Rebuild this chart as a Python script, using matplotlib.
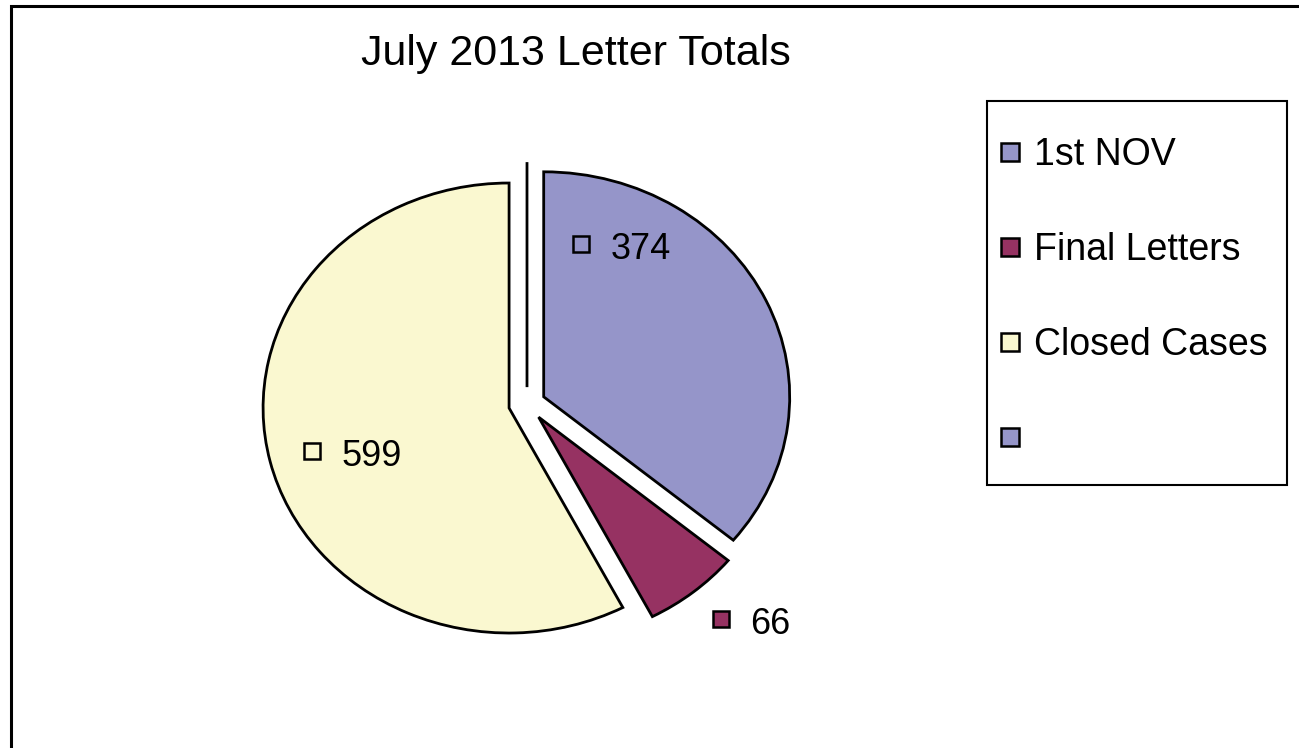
import numpy as np
import matplotlib
matplotlib.use("Agg")
import matplotlib.pyplot as plt
from matplotlib.lines import Line2D
from matplotlib.patches import Rectangle

plt.rcParams['font.family'] = ['Liberation Sans', 'DejaVu Sans']

# data
categories = ['1st NOV', 'Final Letters', 'Closed Cases', '']
values = [374, 66, 599, 0]
colors = ['#9595C9', '#963262', '#FAF8D0', '#9595C9']
title = 'July 2013 Letter Totals'

# label placement (polar, pie radius units) for the value labels
label_ang = [72.8, -50.5, 193.4]
label_r = [0.744, 1.237, 0.899]

W, H = 1299, 748
fig = plt.figure(figsize=(W / 100, H / 100), dpi=100)
ax = fig.add_axes([0, 0, 1, 1])

wedges, _ = ax.pie(values, colors=colors, startangle=90, counterclock=False,
                   explode=[0.075] * len(values),
                   wedgeprops=dict(edgecolor='black', linewidth=2.0))

# pie centre at (527, 404) px, radius 246 px wide x 225 px tall (stretched)
cx, cy, rx, ry = 527, 404, 246, 225
ax.set_xlim(-cx / rx, (W - cx) / rx)
ax.set_ylim(-(H - cy) / ry, cy / ry)
ax.set_aspect('auto')
ax.axis('off')

# value labels with small keys
for i in range(3):
    a = np.deg2rad(label_ang[i])
    x, y = label_r[i] * np.cos(a), label_r[i] * np.sin(a)
    ax.plot([x], [y], marker='s', ms=11.5, mfc=colors[i], mec='black', mew=1.8, ls='none')
    ax.annotate(str(values[i]), (x, y), xytext=(21, -11), textcoords='offset points',
                ha='left', va='baseline', fontsize=26)

# title
fig.text(576 / W, 1 - 65 / H, title, ha='center', va='baseline', fontsize=31)

# legend (frame drawn separately)
handles = [Line2D([], [], marker='s', ms=12.5, mfc=c, mec='black', mew=1.8, ls='none')
           for c in colors]
leg = fig.legend(handles, categories, loc='upper left',
                 bbox_to_anchor=(999 / W, 1 - 137 / H),
                 borderaxespad=0, borderpad=0, fontsize=27, frameon=False,
                 handlelength=0.58, handletextpad=0.36, labelspacing=1.57)
fig.add_artist(Rectangle((987 / W, 1 - 485 / H), 300 / W, 384 / H,
                         transform=fig.transFigure, fill=False,
                         edgecolor='black', linewidth=1.5))

# outer chart border (cropped at right and bottom)
fig.add_artist(Rectangle((11 / W, -0.2), 1.2, 1.2 - 6 / H,
                         transform=fig.transFigure, fill=False,
                         edgecolor='black', linewidth=2.2))

fig.savefig('out.png', dpi=100)
